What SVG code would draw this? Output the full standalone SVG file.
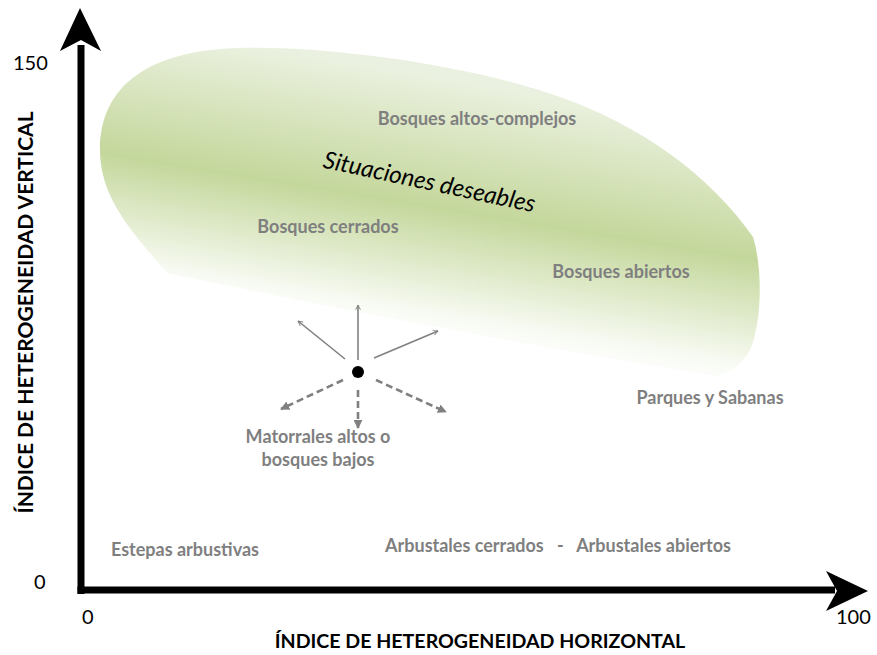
<svg xmlns="http://www.w3.org/2000/svg" width="877" height="655" viewBox="0 0 877 655">
<defs>
<linearGradient id="g" gradientUnits="userSpaceOnUse" x1="450" y1="78" x2="408" y2="335">
<stop offset="0" stop-color="#ebf1e0"/>
<stop offset="0.5" stop-color="#c4d79b"/>
<stop offset="0.9" stop-color="#f7faf2"/>
<stop offset="1" stop-color="#ffffff"/>
</linearGradient>
<marker id="open" viewBox="0 0 10 10" refX="9" refY="5" markerWidth="6" markerHeight="6" orient="auto" markerUnits="userSpaceOnUse">
<path d="M1,1 L9,5 L1,9" fill="none" stroke="#808080" stroke-width="1.5"/>
</marker>
<marker id="tri" viewBox="0 0 10 10" refX="9" refY="5" markerWidth="9" markerHeight="9" orient="auto" markerUnits="userSpaceOnUse">
<path d="M0,0 L10,5 L0,10 Z" fill="#808080"/>
</marker>
<style>
.lbl{font-family:Lato,"Open Sans",sans-serif;font-weight:bold;font-size:18px;fill:#7f7f7f}
.num{font-family:Lato,"Open Sans",sans-serif;font-size:20px;fill:#000}
.ax{font-family:Lato,"Open Sans",sans-serif;font-weight:bold;font-size:19.6px;fill:#000}
.sol{stroke:#808080;stroke-width:1.6;fill:none;marker-end:url(#open)}
.dsh{stroke:#808080;stroke-width:2.6;fill:none;stroke-dasharray:7 4;marker-end:url(#tri)}
</style>
</defs>
<rect width="877" height="655" fill="#fff"/>
<g id="region">
<path d="M167,273 C135,235 100,200 100,150 C100,85 150,50 240,48 C330,46 470,65 560,97 C640,125 710,175 753,237 C762,265 763,320 750,350 C740,368 725,375 715,376 C560,352 330,307 167,273 Z" fill="url(#g)"/>
</g>
<g id="axes">
<line x1="81" y1="45" x2="81" y2="594" stroke="#000" stroke-width="7"/>
<line x1="77.5" y1="590" x2="835" y2="590" stroke="#000" stroke-width="7"/>
<path d="M80,8 L101,51 L81,40 L60,51 Z" fill="#000"/>
<path d="M868,591 L826,611 L837,591 L826,571 Z" fill="#000"/>
</g>
<g id="ticks">
<text class="num" x="13" y="70">150</text>
<text class="num" x="34" y="589">0</text>
<text class="num" x="82" y="624">0</text>
<text class="num" x="836" y="624">100</text>
</g>
<g id="axis-titles">
<text class="ax" x="480" y="648" text-anchor="middle">ÍNDICE DE HETEROGENEIDAD HORIZONTAL</text>
<text class="ax" x="33" y="312.5" text-anchor="middle" font-size="21" style="font-size:21px" transform="rotate(-90 33 312.5)">ÍNDICE DE HETEROGENEIDAD VERTICAL</text>
</g>
<g id="situaciones">
<text x="429" y="190" text-anchor="middle" transform="rotate(12 429 184)" font-family="Lato,'Open Sans',sans-serif" font-style="italic" font-size="24" fill="#000">Situaciones deseables</text>
</g>
<g id="labels">
<text class="lbl" x="477" y="125" text-anchor="middle">Bosques altos-complejos</text>
<text class="lbl" x="328" y="233" text-anchor="middle">Bosques cerrados</text>
<text class="lbl" x="621" y="278" text-anchor="middle">Bosques abiertos</text>
<text class="lbl" x="710" y="404" text-anchor="middle">Parques y Sabanas</text>
<text class="lbl" x="318" y="443" text-anchor="middle">Matorrales altos o</text>
<text class="lbl" x="318" y="466" text-anchor="middle">bosques bajos</text>
<text class="lbl" x="185" y="556" text-anchor="middle">Estepas arbustivas</text>
<text class="lbl" x="558" y="552" text-anchor="middle" xml:space="preserve">Arbustales cerrados   -   Arbustales abiertos</text>
</g>
<g id="connectors">
<line class="sol" x1="358" y1="360" x2="358" y2="305"/>
<line class="sol" x1="345" y1="359" x2="298" y2="321"/>
<line class="sol" x1="374" y1="358" x2="438" y2="331"/>
<line class="dsh" x1="343" y1="380" x2="281" y2="409"/>
<line class="dsh" x1="358" y1="390" x2="358" y2="428"/>
<line class="dsh" x1="376" y1="380" x2="446" y2="412"/>
</g>
<g id="point">
<circle cx="358" cy="372" r="6" fill="#000"/>
</g>
</svg>
